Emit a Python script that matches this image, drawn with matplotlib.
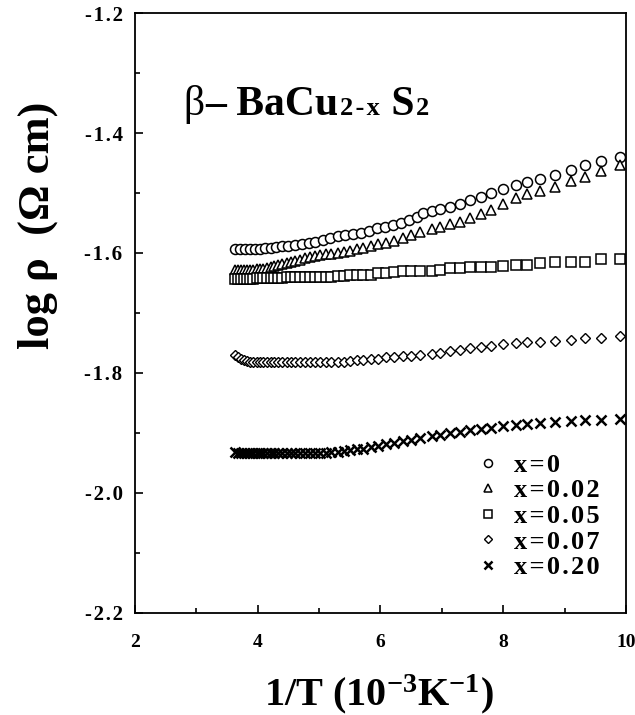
import matplotlib
matplotlib.use("Agg")
import matplotlib.pyplot as plt
from matplotlib.ticker import MultipleLocator
from matplotlib.offsetbox import TextArea, HPacker, AnnotationBbox

plt.rcParams['font.family'] = ['Liberation Serif', 'DejaVu Serif']
plt.rcParams['font.weight'] = 'bold'
plt.rcParams['mathtext.fontset'] = 'custom'
plt.rcParams['mathtext.rm'] = 'Liberation Serif:bold'
plt.rcParams['mathtext.bf'] = 'Liberation Serif:bold'
plt.rcParams['mathtext.it'] = 'Liberation Serif:bold'
plt.rcParams['mathtext.default'] = 'bf'

HS = '\u200a'  # hair space used for the slightly letter-spaced labels

# ---- data: 1/T (10^-3 K^-1) and log rho (Ohm cm) ----
inv_T = [3.63, 3.68, 3.73, 3.78, 3.83, 3.88, 3.93, 3.98, 4.03, 4.09,
         4.15, 4.21, 4.27, 4.33, 4.40, 4.47, 4.54, 4.61, 4.69, 4.77,
         4.85, 4.93, 5.02, 5.11, 5.20, 5.30, 5.40, 5.50, 5.61, 5.72,
         5.84, 5.96, 6.09, 6.22, 6.36, 6.50, 6.65, 6.84, 6.97, 7.13,
         7.29, 7.46, 7.63, 7.80, 8.00, 8.20, 8.39, 8.60, 8.84, 9.10,
         9.34, 9.60, 9.90]

inv_T_x0 = [3.63, 3.71, 3.79, 3.87, 3.95, 4.03, 4.12, 4.21, 4.30, 4.40,
            4.50, 4.61, 4.72, 4.83, 4.94, 5.06, 5.18, 5.30, 5.42, 5.55,
            5.68, 5.81, 5.94, 6.07, 6.20, 6.33, 6.46, 6.59, 6.70, 6.84,
            6.97, 7.13, 7.29, 7.46, 7.63, 7.80, 8.00, 8.20, 8.39, 8.60,
            8.84, 9.10, 9.34, 9.60, 9.90]

rho_x0 = [-1.594, -1.594, -1.594, -1.594, -1.594, -1.593, -1.592, -1.591, -1.590, -1.589,
          -1.588, -1.587, -1.585, -1.583, -1.581, -1.578, -1.575, -1.572, -1.570, -1.568,
          -1.566, -1.563, -1.559, -1.556, -1.553, -1.550, -1.545, -1.540, -1.533, -1.530,
          -1.527, -1.523, -1.519, -1.512, -1.506, -1.500, -1.494, -1.487, -1.481, -1.476,
          -1.470, -1.462, -1.453, -1.447, -1.440]

rho_x002 = [-1.628, -1.628, -1.628, -1.628, -1.628, -1.628, -1.628, -1.627, -1.627, -1.626,
            -1.625, -1.624, -1.622, -1.620, -1.618, -1.616, -1.615, -1.613, -1.611, -1.609,
            -1.607, -1.605, -1.603, -1.602, -1.601, -1.600, -1.599, -1.596, -1.593, -1.591,
            -1.588, -1.585, -1.583, -1.580, -1.575, -1.570, -1.565, -1.560, -1.556, -1.552,
            -1.548, -1.542, -1.535, -1.528, -1.518, -1.508, -1.502, -1.497, -1.490, -1.480,
            -1.473, -1.463, -1.453]

rho_x005 = [-1.643, -1.643, -1.643, -1.643, -1.643, -1.643, -1.643, -1.642, -1.642, -1.642,
            -1.642, -1.642, -1.641, -1.641, -1.641, -1.640, -1.640, -1.640, -1.640, -1.640,
            -1.640, -1.640, -1.640, -1.640, -1.640, -1.639, -1.638, -1.637, -1.637, -1.637,
            -1.636, -1.633, -1.633, -1.631, -1.630, -1.630, -1.630, -1.630, -1.629, -1.625,
            -1.625, -1.624, -1.623, -1.623, -1.622, -1.620, -1.620, -1.617, -1.615, -1.615,
            -1.615, -1.610, -1.610]

rho_x007 = [-1.770, -1.774, -1.777, -1.779, -1.780, -1.781, -1.781, -1.782, -1.782, -1.782,
            -1.782, -1.782, -1.782, -1.782, -1.782, -1.782, -1.782, -1.782, -1.782, -1.782,
            -1.782, -1.782, -1.782, -1.782, -1.781, -1.781, -1.781, -1.780, -1.779, -1.778,
            -1.777, -1.776, -1.774, -1.773, -1.771, -1.771, -1.770, -1.768, -1.766, -1.764,
            -1.761, -1.758, -1.757, -1.755, -1.752, -1.750, -1.749, -1.748, -1.747, -1.745,
            -1.742, -1.742, -1.738]

rho_x020 = [-1.932, -1.933, -1.933, -1.933, -1.933, -1.933, -1.933, -1.933, -1.933, -1.933,
            -1.933, -1.933, -1.933, -1.933, -1.933, -1.933, -1.933, -1.933, -1.933, -1.933,
            -1.933, -1.933, -1.933, -1.933, -1.932, -1.931, -1.930, -1.929, -1.927, -1.926,
            -1.924, -1.922, -1.919, -1.917, -1.914, -1.912, -1.909, -1.905, -1.903, -1.900,
            -1.898, -1.895, -1.893, -1.892, -1.889, -1.887, -1.885, -1.883, -1.882, -1.880,
            -1.878, -1.878, -1.877]

labels = ['x=0', 'x=0.02', 'x=0.05', 'x=0.07', 'x=0.20']
x_ticks = [2, 4, 6, 8, 10]
y_ticks = [-2.2, -2.0, -1.8, -1.6, -1.4, -1.2]

fig = plt.figure(figsize=(6.35, 7.15), dpi=100)
ax = fig.add_axes([0.2126, 0.1427, 0.7732, 0.8391])

common = dict(linestyle='none', markerfacecolor='white', markeredgecolor='black', color='black')
ax.plot(inv_T_x0, rho_x0, marker='o', markersize=7.2, markeredgewidth=1.1,
        label=HS.join(labels[0]), **common)
ax.plot(inv_T, rho_x002, marker='^', markersize=7.5, markeredgewidth=1.1,
        label=HS.join(labels[1]), **common)
ax.plot(inv_T, rho_x005, marker='s', markersize=6.6, markeredgewidth=1.1,
        label=HS.join(labels[2]), **common)
ax.plot(inv_T, rho_x007, marker='D', markersize=4.6, markeredgewidth=1.0,
        label=HS.join(labels[3]), **common)
ax.plot(inv_T, rho_x020, marker='x', markersize=6.5, markeredgewidth=1.8,
        label=HS.join(labels[4]), linestyle='none', color='black')

ax.set_xlim(2, 10)
ax.set_ylim(-2.2, -1.2)
ax.set_xticks(x_ticks)
ax.set_yticks(y_ticks)
ax.set_xticklabels([str(v) for v in x_ticks])
ax.set_yticklabels([HS.join('%.1f' % v) for v in y_ticks])
ax.xaxis.set_minor_locator(MultipleLocator(1))
ax.yaxis.set_minor_locator(MultipleLocator(0.1))
ax.tick_params(which='both', direction='in', top=False, right=False, width=1.2)
ax.tick_params(which='major', length=5.8)
ax.tick_params(which='minor', length=3.6)
ax.tick_params(axis='x', which='major', pad=15, labelsize=14)
ax.tick_params(axis='y', which='major', pad=9, labelsize=15)
for lab in ax.get_xticklabels() + ax.get_yticklabels():
    lab.set_fontweight('bold')
for sp in ax.spines.values():
    sp.set_linewidth(1.3)

fig.text(0.060, 1 - 225 / 715, 'log ρ  (Ω cm)', rotation=90, ha='center', va='center',
         fontsize=32, fontweight='bold')
fig.text(0.597, 1 - 694 / 715, r'1/T (10$^{-3}$K$^{-1}$)', ha='center', va='center',
         fontsize=29, fontweight='bold')

# compound title
big = dict(fontsize=30, fontweight='bold', family='Liberation Serif')
small = dict(fontsize=19, fontweight='bold', family='Liberation Serif')
parts = [TextArea('β', textprops=dict(fontsize=30, fontweight='normal', family='Liberation Serif')),
         TextArea('– BaCu', textprops=big),
         TextArea(HS.join('2-x'), textprops=small),
         TextArea(' S', textprops=big),
         TextArea('2', textprops=small)]
title_box = HPacker(children=parts, align='baseline', pad=0, sep=1)
ab = AnnotationBbox(title_box, (0.098, 0.848), xycoords='axes fraction',
                    box_alignment=(0, 0.5), frameon=False, pad=0)
ax.add_artist(ab)

leg = ax.legend(loc='upper left', bbox_to_anchor=(0.6914, 0.266), frameon=False,
                markerscale=0.8, handlelength=1.0, handletextpad=0.5, labelspacing=0.08,
                borderpad=0, borderaxespad=0,
                prop={'family': 'Liberation Serif', 'weight': 'bold', 'size': 19})

fig.savefig('out.png', dpi=100)
